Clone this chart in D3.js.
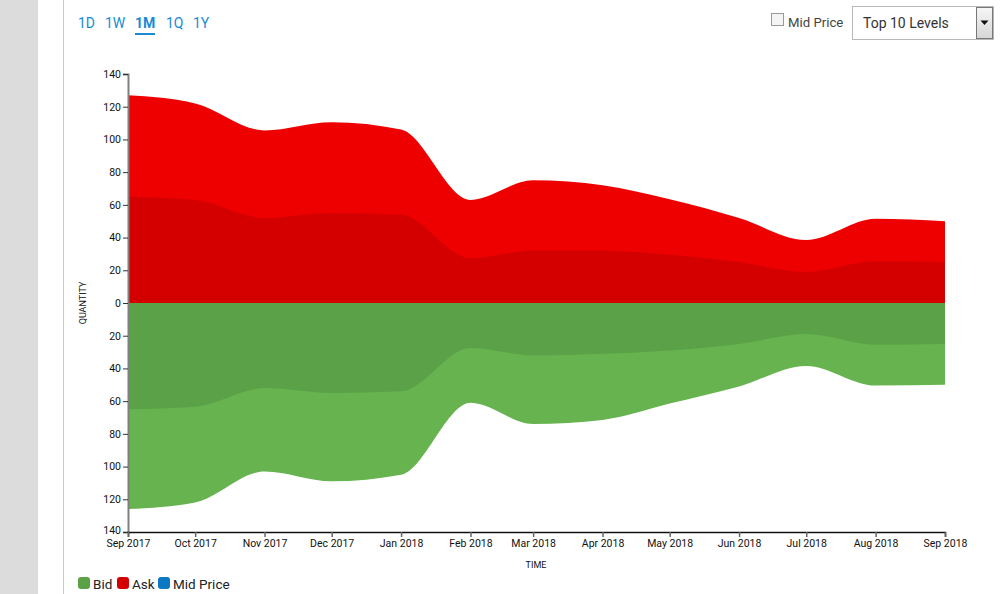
<!DOCTYPE html>
<html><head><meta charset="utf-8">
<script src="https://cdn.jsdelivr.net/npm/d3@7/dist/d3.min.js"></script>
<style>
body{margin:0;background:#fff;font-family:Roboto,"Liberation Sans",Arial,sans-serif;}
svg{display:block}
</style></head>
<body><svg id="c" width="1006" height="594"></svg>
<script>
const months = ["2017-09-01","2017-10-01","2017-11-01","2017-12-01","2018-01-01","2018-02-01","2018-03-01","2018-04-01","2018-05-01","2018-06-01","2018-07-01","2018-08-01","2018-09-01"];
const askInner = [65, 63, 52, 55, 54, 27.5, 32, 32, 29.5, 25, 19, 25.5, 25];
const askOuter = [127, 122, 105.5, 110.5, 106, 63, 75, 72, 63.5, 52, 38.5, 51.5, 50];
const bidInner = [65, 63.5, 52, 55, 54, 27.5, 32, 31, 29, 25, 19, 25.5, 25];
const bidOuter = [126, 122, 103, 109, 105, 61, 74, 71.5, 61.5, 51, 38.5, 50.5, 50];
const yTicks = [140,120,100,80,60,40,20,0,20,40,60,80,100,120,140];
const ranges = ["1D","1W","1M","1Q","1Y"];
const legendItems = [{k:"Bid",c:"#5aa147"},{k:"Ask",c:"#d40000"},{k:"Mid Price",c:"#0a78c2"}];

const svg = d3.select("#c");
// page chrome
svg.append("rect").attr("x",0).attr("y",0).attr("width",38).attr("height",594).attr("fill","#dcdcdc");
svg.append("line").attr("x1",63.5).attr("x2",63.5).attr("y1",0).attr("y2",594).attr("stroke","#c8c8c8");

// range buttons
const rx = [78,105,135,166,193];
ranges.forEach((r,i)=>{
  svg.append("text").attr("x",rx[i]).attr("y",28).text(r)
    .attr("font-size",14).attr("fill","#1a8ad4").attr("font-weight", r==="1M"?"bold":"normal");
});
svg.append("rect").attr("x",135).attr("y",33).attr("width",20).attr("height",2).attr("fill","#1a8ad4");

// mid price checkbox
svg.append("rect").attr("x",771.5).attr("y",13.5).attr("width",12).attr("height",12).attr("fill","#f4f4f4").attr("stroke","#999");
svg.append("text").attr("x",788).attr("y",27).text("Mid Price").attr("font-size",13.2).attr("fill","#444");
// select
svg.append("rect").attr("x",852.5).attr("y",6.5).attr("width",141).attr("height",33).attr("fill","#fff").attr("stroke","#b8b8b8");
svg.append("text").attr("x",863).attr("y",28).text("Top 10 Levels").attr("font-size",14).attr("fill","#333");
const g1 = svg.append("defs").append("linearGradient").attr("id","btn").attr("x1",0).attr("x2",0).attr("y1",0).attr("y2",1);
g1.append("stop").attr("offset","0").attr("stop-color","#f6f6f6");
g1.append("stop").attr("offset","1").attr("stop-color","#d6d6d6");
svg.append("rect").attr("x",976.5).attr("y",7.5).attr("width",16).attr("height",31).attr("fill","url(#btn)").attr("stroke","#777");
svg.append("path").attr("d","M980.5,20.5 L988.5,20.5 L984.5,25 Z").attr("fill","#111");

// scales
const parse = d3.timeParse("%Y-%m-%d");
const dates = months.map(parse);
const x = d3.scaleTime().domain([dates[0], dates[dates.length-1]]).range([128,945]);
const y = d3.scaleLinear().domain([-140,140]).range([532,74]);

const curve = d3.curveMonotoneX;
const area = (vals, sign) => d3.area().curve(curve)
  .x((d,i)=>x(dates[i])).y0(y(0)).y1((d)=>y(sign*d))(vals);

svg.append("path").attr("d",area(askOuter,1)).attr("fill","#ee0000");
svg.append("path").attr("d",area(askInner,1)).attr("fill","#d40000");
svg.append("path").attr("d",area(bidOuter,-1)).attr("fill","#66b34f");
svg.append("path").attr("d",area(bidInner,-1)).attr("fill","#5ba147");

// y axis
const yAxis = d3.axisLeft(y).tickValues(d3.range(-140,141,20)).tickFormat(d=>Math.abs(d)).tickSize(5);
const ya = svg.append("g").attr("transform","translate(128,0)").call(yAxis);
ya.select(".domain").attr("stroke","#808080").attr("stroke-width",2);
ya.selectAll(".tick line").attr("stroke","#333");
ya.selectAll("text").attr("font-size",10.5).attr("fill","#111").attr("font-family","Roboto,Arial,sans-serif").attr("x",-7);
ya.selectAll(".tick").filter(d=>d===-140).select("text").attr("dy","0.1em");

// x axis
const xAxis = d3.axisBottom(x).tickValues(dates).tickFormat(d3.timeFormat("%b %Y")).tickSize(5);
const xa = svg.append("g").attr("transform","translate(0,532)").call(xAxis);
xa.select(".domain").attr("stroke","#111").attr("stroke-width",1.5);
xa.selectAll(".tick line").attr("stroke","#666").attr("stroke-width",1.5);
xa.selectAll("text").attr("font-size",10.5).attr("fill","#111").attr("font-family","Roboto,Arial,sans-serif").attr("dy","0.71em").attr("y",8);

svg.append("text").attr("transform","translate(86,303) rotate(-90)").attr("text-anchor","middle")
  .text("QUANTITY").attr("font-size",9).attr("fill","#111");
svg.append("text").attr("x",536).attr("y",568).attr("text-anchor","middle")
  .text("TIME").attr("font-size",9).attr("fill","#111");

// legend
const lx = [78,117,158];
legendItems.forEach((it,i)=>{
  svg.append("rect").attr("x",lx[i]).attr("y",577).attr("width",12).attr("height",12).attr("rx",3).attr("fill",it.c);
  svg.append("text").attr("x",lx[i]+15).attr("y",589).text(it.k).attr("font-size",13.5).attr("fill","#222");
});
</script></body></html>
